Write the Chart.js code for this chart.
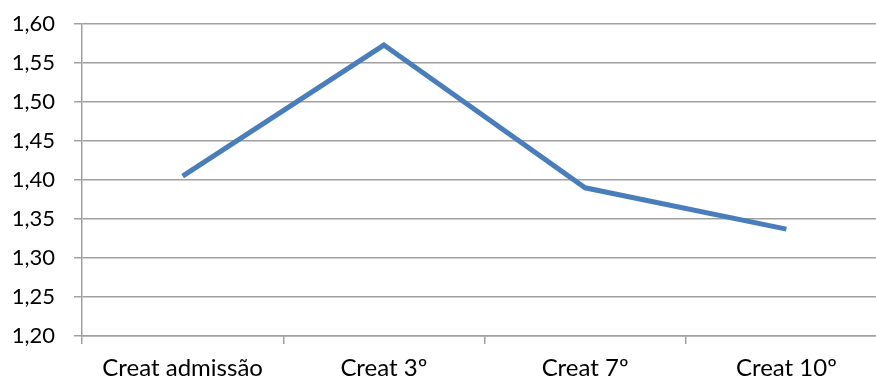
<!DOCTYPE html>
<html>
<head>
<meta charset="utf-8">
<script src="https://cdn.jsdelivr.net/npm/chart.js@4"></script>
<style>
  html, body { margin: 0; padding: 0; background: #fff; overflow: hidden; }
  #wrap { width: 887px; height: 381px; }
</style>
</head>
<body>
<div id="wrap"><canvas id="c"></canvas></div>
<script>
// Creatinine over the stay
const categories = ['Creat admissão', 'Creat 3º', 'Creat 7º', 'Creat 10º'];
const creatValues = [1.405, 1.573, 1.39, 1.337];
const yTickValues = [1.20, 1.25, 1.30, 1.35, 1.40, 1.45, 1.50, 1.55, 1.60];

const gridColor = '#a0a0a0';
const family = 'Lato, "Open Sans", sans-serif';

new Chart(document.getElementById('c'), {
  type: 'line',
  data: {
    labels: categories,
    datasets: [{
      data: creatValues,
      borderColor: '#4a7ebb',
      borderWidth: 5,
      pointRadius: 0,
      tension: 0,
      fill: false
    }]
  },
  options: {
    responsive: true,
    maintainAspectRatio: false,
    animation: false,
    layout: { padding: { top: 24, right: 0, bottom: 0, left: 0 } },
    plugins: { legend: { display: false }, tooltip: { enabled: false } },
    scales: {
      x: {
        offset: true,
        grid: { offset: true, drawOnChartArea: false, drawTicks: true, tickLength: 8, color: gridColor, lineWidth: 1.5 },
        border: { color: gridColor, width: 1.5 },
        ticks: { color: '#000', font: { family, size: 24 }, padding: 10, maxRotation: 0, autoSkip: false },
        afterFit: s => { s.height = 45; s.paddingLeft = 0; s.paddingRight = 0; }
      },
      y: {
        min: 1.2,
        max: 1.6,
        afterBuildTicks: s => { s.ticks = yTickValues.map(v => ({ value: v })); },
        grid: { color: gridColor, lineWidth: 1.5, tickLength: 8 },
        border: { color: gridColor, width: 1.5 },
        ticks: {
          color: '#000', font: { family, size: 22 }, padding: 19,
          callback: v => Number(v).toFixed(2).replace('.', ',')
        },
        afterFit: s => { s.width = 82; s.paddingTop = 0; s.paddingBottom = 0; }
      }
    }
  }
});
</script>
</body>
</html>
